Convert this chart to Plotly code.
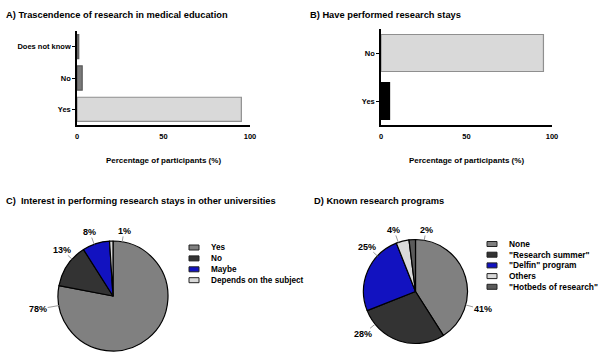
import math
import plotly.graph_objects as go

W, H = 605, 360

# ---------------- data ----------------
a_categories = ["Yes", "No", "Does not know"]
a_values = [95, 3, 1]

b_categories = ["Yes", "No"]
b_values = [5, 95]

c_labels = ["Yes", "No", "Maybe", "Depends on the subject"]
c_values = [78, 13, 8, 1]

d_labels = ["None", '"Research summer"', '"Delfin" program', "Others", '"Hotbeds of research"']
d_values = [41, 28, 25, 4, 2]

x_tickvals = [0, 50, 100]
x_title = "Percentage of participants (%)"
panel_titles = [
    "A) Trascendence of research in medical education",
    "B) Have performed research stays",
    "C)  Interest in performing research stays in other universities",
    "D) Known research programs",
]

# ---------------- styles ----------------
FONT = "Liberation Sans, Arial, Helvetica, sans-serif"
GRAY = "#808080"
DARK = "#333333"
BLUE = "#1212c0"
LIGHT = "#d9d9d9"
MID = "#5a5a5a"

a_colors = [LIGHT, "#7a7a7a", "#7a7a7a"]
a_lines = ["#8f8f8f", "#5a5a5a", "#5a5a5a"]
b_colors = ["#000000", LIGHT]
b_lines = ["#000000", "#8f8f8f"]
c_colors = [GRAY, DARK, BLUE, LIGHT]
d_colors = [GRAY, DARK, BLUE, LIGHT, MID]

# pixel geometry
A_X = (77, 250); A_Y = (31, 125)
B_X = (381, 552); B_Y = (29, 125)
C_CENTER = (113, 296); C_R = 55
D_CENTER = (415.5, 291.5); D_R = 52
# label placement (angle clockwise from 12 o'clock, distance of label centre)
c_label_angles = [260, 312, 340, 9.6]
c_label_dist = [76, 69, 68, 66]
d_label_angles = [105, 231, 313, 340.7, 9.7]
d_label_dist = [69.4, 67.2, 65.8, 65.2, 62.4]


def px(x):
    return x / W


def py(y):
    return 1 - y / H


fig = go.Figure()

fig.add_trace(go.Bar(
    x=a_values, y=a_categories, orientation="h", xaxis="x", yaxis="y",
    marker=dict(color=a_colors, line=dict(color=a_lines, width=1.2)),
    showlegend=False, hoverinfo="skip"))
fig.add_trace(go.Bar(
    x=b_values, y=b_categories, orientation="h", xaxis="x2", yaxis="y2",
    marker=dict(color=b_colors, line=dict(color=b_lines, width=1.2)),
    showlegend=False, hoverinfo="skip"))


def pie_domain(center, r):
    cx, cy = center
    return dict(x=[px(cx - r), px(cx + r)], y=[py(cy + r), py(cy - r)])


fig.add_trace(go.Pie(
    labels=c_labels, values=c_values, sort=False, direction="clockwise", rotation=0,
    marker=dict(colors=c_colors, line=dict(color="#000000", width=1.2)),
    textinfo="none", domain=pie_domain(C_CENTER, C_R), showlegend=False, hoverinfo="skip"))
fig.add_trace(go.Pie(
    labels=d_labels, values=d_values, sort=False, direction="clockwise", rotation=0,
    marker=dict(colors=d_colors, line=dict(color="#000000", width=1.2)),
    textinfo="none", domain=pie_domain(D_CENTER, D_R), showlegend=False, hoverinfo="skip"))

tickfont = dict(family=FONT, size=7.5, color="#000000", weight="bold")
titlefont = dict(family=FONT, size=8, color="#000000", weight="bold")


def xaxis(dom, anchor):
    return dict(domain=[px(dom[0]), px(dom[1])], anchor=anchor, range=[0, 100],
                tickvals=x_tickvals, ticks="outside", ticklen=3, tickcolor="rgba(0,0,0,0)",
                showline=True, linecolor="#000000", linewidth=1.5,
                showgrid=False, zeroline=False, tickfont=tickfont, automargin=False,
                title=dict(text=x_title, font=titlefont, standoff=18), fixedrange=True)


def yaxis(dom, anchor, cats):
    return dict(domain=[py(dom[1]), py(dom[0])], anchor=anchor, type="category",
                categoryorder="array", categoryarray=cats, range=[-0.5, len(cats) - 0.5],
                ticks="outside", ticklen=3, tickwidth=1, tickcolor="#000000",
                showline=True, linecolor="#000000", linewidth=1.5,
                showgrid=False, zeroline=False, tickfont=tickfont, automargin=False,
                fixedrange=True)


annotations = []
shapes = []

# panel titles
for text, (x, y) in zip(panel_titles, [(4, 15), (308, 15), (4, 201), (312, 201)]):
    annotations.append(dict(text=text, x=px(x), y=py(y), xref="paper", yref="paper",
                            xanchor="left", yanchor="middle", showarrow=False,
                            font=dict(family=FONT, size=9.3, color="#000000", weight="bold")))


# pie percentage labels with leader lines
def pie_labels(values, center, r, angles, dists):
    cx, cy = center
    for v, ang, d in zip(values, angles, dists):
        t = math.radians(ang)
        ex = cx + r * math.sin(t)
        ey = cy - r * math.cos(t)
        annotations.append(dict(
            text=f"{v}%", x=px(ex), y=py(ey), xref="paper", yref="paper",
            ax=(d - r) * math.sin(t), ay=-(d - r) * math.cos(t),
            showarrow=True, arrowhead=0, arrowwidth=1, arrowcolor="#9a9a9a",
            standoff=0, startstandoff=0, borderpad=0,
            font=dict(family=FONT, size=9, color="#000000", weight="bold")))


pie_labels(c_values, C_CENTER, C_R, c_label_angles, c_label_dist)
pie_labels(d_values, D_CENTER, D_R, d_label_angles, d_label_dist)


# manual legends
def legend(labels, colors, sw_x, text_x, y0, step, size):
    for i, (lab, col) in enumerate(zip(labels, colors)):
        yc = y0 + i * step
        shapes.append(dict(type="rect", xref="paper", yref="paper",
                           x0=px(sw_x[0]), x1=px(sw_x[1]), y0=py(yc + 2.5), y1=py(yc - 2.5),
                           fillcolor=col, line=dict(color="#222222", width=1)))
        annotations.append(dict(text=lab, x=px(text_x), y=py(yc), xref="paper", yref="paper",
                                xanchor="left", yanchor="middle", showarrow=False,
                                font=dict(family=FONT, size=size, color="#000000", weight="bold")))


legend(c_labels, c_colors, (189, 199), 209, 247.5, 10.9, 8.2)
legend(d_labels, d_colors, (487, 497), 507, 244, 10.7, 8.4)

fig.update_layout(
    width=W, height=H, margin=dict(l=0, r=0, t=0, b=0),
    paper_bgcolor="#ffffff", plot_bgcolor="rgba(0,0,0,0)",
    bargap=0.23, hovermode=False,
    xaxis=xaxis(A_X, "y"), yaxis=yaxis(A_Y, "x", a_categories),
    xaxis2=xaxis(B_X, "y2"), yaxis2=yaxis(B_Y, "x2", b_categories),
    annotations=annotations, shapes=shapes,
    font=dict(family=FONT, color="#000000"),
)

fig.write_html("out.html", config={"displayModeBar": False},
               post_script="document.body.style.margin='0px';document.body.style.overflow='hidden';")
